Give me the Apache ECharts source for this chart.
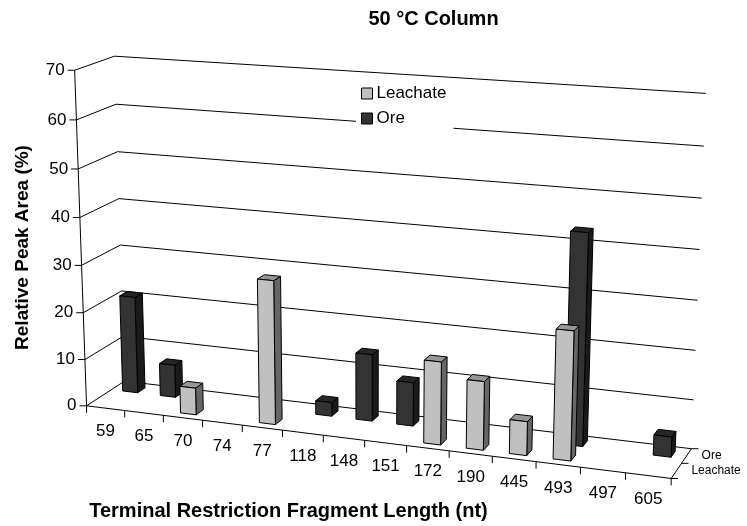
<!DOCTYPE html>
<html><head><meta charset="utf-8">
<style>html,body{margin:0;padding:0;background:#fff}#c{width:747px;height:526px}</style>
<script src="https://cdn.jsdelivr.net/npm/echarts@6/dist/echarts.min.js"></script>
</head><body><div id="c"></div>
<script>
const categories = ['59','65','70','74','77','118','148','151','172','190','445','493','497','605'];
const yTicks = [0,10,20,30,40,50,60,70];
const leachate = [null,null,5.7,null,30,null,null,null,17,14,6.9,26,null,null];
const ore = [20.8,7,null,null,null,2.9,14,9.1,null,null,null,43,null,4.1];
const depthNames = ['Leachate','Ore'];
const FONT = '"Liberation Sans", Arial, sans-serif';

// camera calibration: cube corner (x,y,z in 0..1) -> page pixel
const calib = [
 [0,0,0,87.3,405.3],[0,3/7,0,82,265.3],[0,1,0,73.7,70.3],
 [0,0,1,123.3,381.7],[0,3/7,1,121,245],[0,1,1,115,56],
 [1,0,1,691.7,448.3],[1,3/7,1,697.3,300],[1,1,1,706,93.7],
 [0.5,0,0,364.3,440.7],[1,0,0,671.3,478.7]
];
function solveCamera(pts){
  const n=11,A=[...Array(n)].map(()=>Array(n+1).fill(0));
  const add=(r,b)=>{for(let i=0;i<n;i++){for(let j=0;j<n;j++)A[i][j]+=r[i]*r[j];A[i][n]+=r[i]*b;}};
  pts.forEach(([X,Y,Z,u,v])=>{
    add([X,Y,Z,1,0,0,0,0,-u*X,-u*Y,-u*Z],u);
    add([0,0,0,0,X,Y,Z,1,-v*X,-v*Y,-v*Z],v);
  });
  for(let c=0;c<n;c++){
    let p=c;for(let r=c+1;r<n;r++)if(Math.abs(A[r][c])>Math.abs(A[p][c]))p=r;
    [A[c],A[p]]=[A[p],A[c]];
    for(let r=0;r<n;r++){if(r===c)continue;const f=A[r][c]/A[c][c];for(let k=c;k<=n;k++)A[r][k]-=f*A[c][k];}
  }
  return A.map((row,i)=>row[n]/row[i]);
}
const P=solveCamera(calib);
function project(x,y,z){
  const w=P[8]*x+P[9]*y+P[10]*z+1;
  return [(P[0]*x+P[1]*y+P[2]*z+P[3])/w,(P[4]*x+P[5]*y+P[6]*z+P[7])/w];
}
// library scale -> unit cube
function unit(params,api,i,v){
  const c=api.coord([i,v]),s=params.coordSys;
  return {x:(c[0]-s.x)/s.width,y:(s.y+s.height-c[1])/s.height,band:api.size([1,0])[0]/s.width};
}
const line=(pts,w)=>({type:'polyline',shape:{points:pts},silent:true,style:{stroke:'#000',fill:null,lineWidth:w||1}});
const txt=(x,y,t,size,align)=>({type:'text',x,y,silent:true,style:{text:t,fill:'#000',font:size+'px '+FONT,align:align||'center',verticalAlign:'middle'}});

function renderWall(params,api){
  const v=api.value(1),y=unit(params,api,0,v).y;
  const a=project(0,y,0),b=project(0,y,1),c=project(1,y,1);
  return {type:'group',children:[
    line([a,b,c]),
    line([a,[a[0]-7,a[1]]]),
    txt(a[0]-10,a[1],String(v),17,'right')
  ]};
}
function renderAxes(params,api){
  const a=project(0,0,0),t=project(0,1,0),r=project(1,0,0),b=project(1,0,1),m=project(1,0,.5);
  const k=[];
  depthNames.forEach((name,d)=>{
    const p=project(1,0,.25+d*.5);
    k.push(txt(p[0]+15,p[1],name,12,'left'));
  });
  return {type:'group',children:[
    line([a,t]),line([a,r]),line([r,b]),
    line([r,[r[0]+7,r[1]]]),line([m,[m[0]+7,m[1]]]),line([b,[b[0]+7,b[1]]])
  ].concat(k)};
}
function renderCat(params,api){
  const i=api.value(0),u=unit(params,api,i,0);
  const left=project(u.x-u.band/2,0,0),mid=project(u.x,0,0);
  const kids=[line([left,[left[0],left[1]+7]]),txt(mid[0],mid[1]+23.5,categories[i],17)];
  if(i===categories.length-1){const e=project(u.x+u.band/2,0,0);kids.push(line([e,[e[0],e[1]+7]]));}
  return {type:'group',children:kids};
}
function barRenderer(z0,z1,front,side,top){
  return function(params,api){
    const v=api.value(1);
    if(v==null||isNaN(v))return null;
    const i=api.value(0),u=unit(params,api,i,v);
    const x0=u.x-.2*u.band,x1=u.x+.2*u.band,h=u.y;
    const poly=(pts,fill)=>({type:'polygon',shape:{points:pts},style:{fill,stroke:'#000',lineWidth:1,lineJoin:'round'}});
    return {type:'group',children:[
      poly([project(x1,0,z0),project(x1,0,z1),project(x1,h,z1),project(x1,h,z0)],side),
      poly([project(x0,h,z0),project(x1,h,z0),project(x1,h,z1),project(x0,h,z1)],top),
      poly([project(x0,0,z0),project(x1,0,z0),project(x1,h,z0),project(x0,h,z0)],front)
    ]};
  };
}
const toData=a=>a.map((v,i)=>[i,v]);
const chart=echarts.init(document.getElementById('c'),null,{renderer:'canvas'});
chart.setOption({
  animation:false,
  backgroundColor:'#fff',
  textStyle:{fontFamily:FONT},
  title:{text:'50 °C Column',left:428.5,top:4,textAlign:'center',textStyle:{fontFamily:FONT,fontSize:20,fontWeight:'bold',color:'#000'}},
  legend:{
    left:356,top:80,orient:'vertical',align:'left',
    padding:[5,7,5,5],itemGap:8,itemWidth:11,itemHeight:11,
    backgroundColor:'#fff',z:10,selectedMode:false,
    textStyle:{fontFamily:FONT,fontSize:17,color:'#000',padding:[0,0,0,-1]},
    data:[
      {name:'Leachate',icon:'rect',itemStyle:{color:'#c0c0c0',borderColor:'#000',borderWidth:1}},
      {name:'Ore',icon:'rect',itemStyle:{color:'#333333',borderColor:'#000',borderWidth:1}}
    ]
  },
  grid:{left:60,top:84.5,width:457,height:335},
  xAxis:{type:'category',data:categories,boundaryGap:true,
    axisLine:{show:false},axisTick:{show:false},axisLabel:{show:false},splitLine:{show:false},
    name:'Terminal Restriction Fragment Length (nt)',nameLocation:'middle',nameGap:90.5,
    nameTextStyle:{fontFamily:FONT,fontSize:20,fontWeight:'bold',color:'#000'}},
  yAxis:{type:'value',min:0,max:70,interval:10,
    axisLine:{show:false},axisTick:{show:false},axisLabel:{show:false},splitLine:{show:false},
    name:'Relative Peak Area (%)',nameLocation:'middle',nameGap:28,
    nameTextStyle:{fontFamily:FONT,fontSize:19,fontWeight:'bold',color:'#000'}},
  series:[
    {type:'custom',z:1,silent:true,renderItem:renderWall,data:yTicks.map(v=>[0,v])},
    {type:'custom',z:1,silent:true,renderItem:renderAxes,data:[[0,0]]},
    {type:'custom',z:1,silent:true,renderItem:renderCat,data:categories.map((c,i)=>[i,0])},
    {type:'custom',name:'Ore',z:2,silent:true,renderItem:barRenderer(.65,.85,'#333333','#1a1a1a','#262626'),data:toData(ore)},
    {type:'custom',name:'Leachate',z:3,silent:true,renderItem:barRenderer(.15,.35,'#c0c0c0','#666666','#969696'),data:toData(leachate)}
  ]
});
</script></body></html>
